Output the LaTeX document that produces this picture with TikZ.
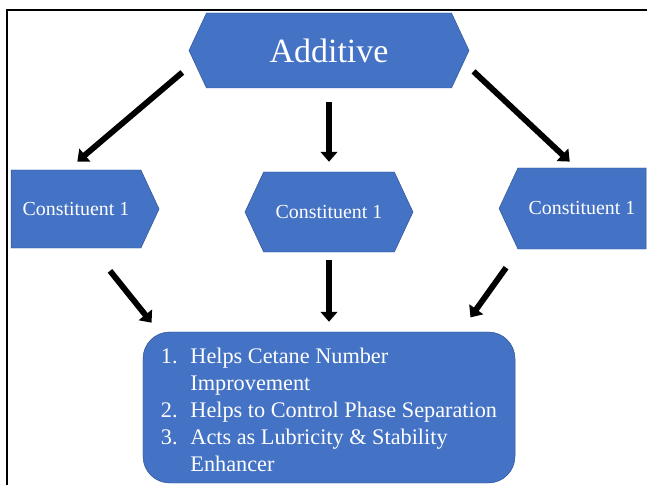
\documentclass[tikz,border=0pt]{standalone}
\usepackage{fontspec}
\setmainfont{Liberation Serif}
\usetikzlibrary{arrows.meta,shapes.symbols}
\definecolor{office}{HTML}{4472C4}
\definecolor{rim}{HTML}{2F528F}

\begin{document}
\begin{tikzpicture}[x=0.03cm, y=-0.03cm,
  hexbox/.style={signal, signal pointer angle=130, draw=rim, fill=office,
                 text=white, inner sep=0pt, font=\fontsize{17}{20}\selectfont},
  listbox/.style={draw=rim, fill=office, text=white, rounded corners=0.8cm,
                  minimum width=11.16cm, minimum height=4.53cm,
                  font=\fontsize{19}{23}\selectfont},
  arr/.style={-{Triangle[length=3mm, width=5mm]}, line width=5pt}]
  \useasboundingbox (0,0) rectangle (647,485);
  \draw[line width=1.6pt] (7,485) -- (7,10) -- (647,10);
  \node[hexbox, signal to=east and west, minimum width=8.4cm, minimum height=2.25cm,
        font=\fontsize{29}{34}\selectfont] (add) at (329,50.5) {Additive};
  \node[hexbox, signal to=east, minimum width=4.44cm, minimum height=2.34cm] (c1) at (76,209) {Constituent 1};
  \node[hexbox, signal to=east and west, minimum width=5.04cm, minimum height=2.4cm] (c2) at (329,212) {Constituent 1};
  \node[hexbox, signal to=west, minimum width=4.41cm, minimum height=2.43cm] (c3) at (582,208.5) {Constituent 1};
  \node[listbox] (res) at (329,407.5) {\raisebox{-3.8pt}[\height][\depth]{\begin{tabular}{@{}l@{\hspace{11pt}}l@{}}
    1. & Helps Cetane Number\\
       & Improvement\\
    2. & Helps to Control Phase Separation\\
    3. & Acts as Lubricity \& Stability\\
       & Enhancer
  \end{tabular}}};
  \draw[arr, shorten <=0.47cm, shorten >=0.38cm] (add.185) -- (c1.102);
  \draw[arr, shorten <=0.42cm, shorten >=0.3cm] (add.south) -- (c2.north);
  \draw[arr, shorten <=0.4cm, shorten >=0.27cm] (add.355) -- (c3.98);
  \draw[arr, shorten <=0.87cm, shorten >=0.35cm] (c1.292) -- (res.156);
  \draw[arr, shorten <=0.24cm, shorten >=0.3cm] (c2.south) -- (res.north);
  \draw[arr, shorten <=0.68cm, shorten >=0.53cm] (c3.213) -- (res.30);
\end{tikzpicture}
\end{document}
